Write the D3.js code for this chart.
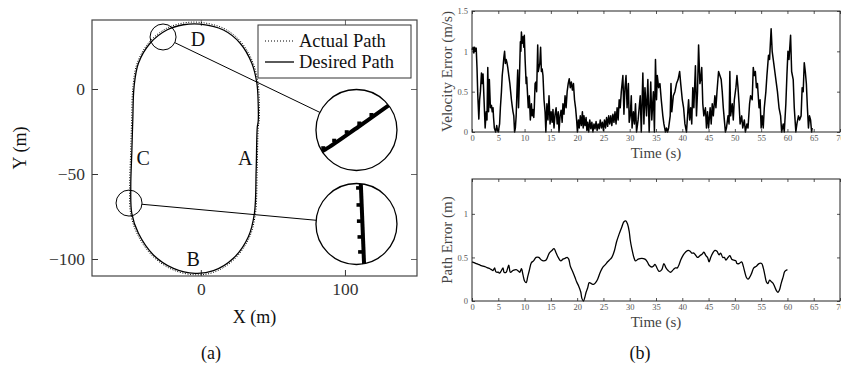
<!DOCTYPE html>
<html>
<head>
<meta charset="utf-8">
<script src="https://cdn.jsdelivr.net/npm/d3@7"></script>
<style>
  body { margin: 0; background: #fff; }
  svg { display: block; font-family: 'Liberation Serif', 'Times New Roman', serif; }
</style>
</head>
<body>
<div id="chart"></div>
<script>
// ---- data ----
// (a) track, desired path (m)
const desiredX = [-0.5, 15.7, 27.3, 35.4, 38.9, 39.8, 39.8, 39.2, 38.4, 37.2, 33, 22.6, 8.8, -4, -19, -32.9, -43.3, -47.9, -48.6, -47.9, -47.2, -46.3, -43.3, -35.2, -23.6, -12.1];
const desiredY = [38.2, 34.7, 26.9, 15.1, 3.4, -8.4, -19.2, -22.2, -47.6, -73.1, -86.9, -99.6, -106.9, -108.4, -105.5, -97.6, -84.9, -73.1, -57.5, -37.8, -18.2, 1.4, 15.1, 26.9, 34.7, 37.8];
// (a) track, actual path (m)
const actualX = [-0.5, 16.1, 28, 36.2, 39.7, 40.6, 40.5, 39.9, 39.1, 37.9, 33.6, 23, 9, -4, -19.3, -33.5, -44.1, -48.7, -49.4, -48.7, -48, -47.1, -44.1, -35.8, -24, -12.3];
const actualY = [39.2, 35.6, 27.6, 15.5, 3.5, -8.4, -19, -22.4, -47.6, -73.3, -87.5, -100.4, -107.8, -109.3, -106.4, -98.3, -85.3, -73.1, -57.5, -37.8, -18.2, 1.4, 15.4, 27.6, 35.6, 38.8];
const pointNames = ["A", "B", "C", "D"];
const pointX = [30.8, -5.3, -40, -1.9];
const pointY = [-40.6, -100, -40.6, 29.4];
const xTicksA = [0, 100];
const yTicksA = [0, -50, -100];

// (a) zoom insets: source spot and where the magnified view sits (m)
const zoomSrcX = [-26.2, -49.8];
const zoomSrcY = [30.6, -67.1];
const zoomDstX = [108, 108];
const zoomDstY = [-24.1, -79.4];
// magnified contents, in inset-local units (-1..1)
const zoomLineD = [[-1.05, 0.62], [-0.77, 0.48], [0.05, -0.08], [0.76, -0.58], [1.05, -0.78]];
const zoomMarksD = [[-0.82, 0.445], [-0.55, 0.26], [-0.24, 0.05], [0.07, -0.165], [0.37, -0.375]];
const zoomLineC = [[0.105, -1.05], [0.19, 1.05]];
const zoomMarksC = [[0.04, -0.89], [0.05, -0.47], [0.06, -0.07], [0.075, 0.32], [0.09, 0.69]];

// (b) velocity error
const velTime = [0, 0.2, 0.35, 0.5, 0.65, 0.8, 0.95, 1.1, 1.3, 1.45, 1.6, 1.8, 1.95, 2.1, 2.2, 2.35, 2.5, 2.7, 2.85, 3, 3.15, 3.3, 3.5, 3.7, 3.85, 4, 4.1, 4.25, 4.5, 4.7, 4.85, 5, 5.25, 5.4, 5.6, 5.75, 5.9, 6.05, 6.2, 6.35, 6.5, 6.65, 6.8, 7, 7.2, 7.35, 7.5, 7.65, 7.8, 7.95, 8.1, 8.25, 8.4, 8.55, 8.7, 8.85, 9, 9.2, 9.3, 9.4, 9.55, 9.7, 9.85, 9.95, 10.1, 10.3, 10.4, 10.5, 10.7, 10.9, 11.1, 11.3, 11.45, 11.6, 11.75, 11.85, 12, 12.15, 12.3, 12.5, 12.6, 12.75, 12.9, 13.05, 13.2, 13.35, 13.5, 13.7, 13.9, 14.05, 14.25, 14.45, 14.65, 14.85, 15.05, 15.25, 15.4, 15.6, 15.8, 16, 16.2, 16.4, 16.55, 16.75, 16.95, 17.15, 17.3, 17.5, 17.7, 17.9, 18.1, 18.3, 18.5, 18.7, 18.9, 19.1, 19.3, 19.5, 19.7, 19.9, 20.05, 20.25, 20.4, 20.6, 20.8, 21, 21.15, 21.3, 21.5, 21.7, 21.85, 22, 22.2, 22.4, 22.6, 22.8, 23, 23.2, 23.4, 23.6, 23.8, 24, 24.2, 24.4, 24.6, 24.8, 25, 25.2, 25.4, 25.6, 25.8, 26, 26.2, 26.4, 26.6, 26.8, 27, 27.2, 27.4, 27.6, 27.8, 28, 28.2, 28.4, 28.7, 28.9, 29.1, 29.3, 29.5, 29.75, 29.9, 30.1, 30.3, 30.45, 30.7, 30.9, 31.1, 31.3, 31.6, 31.8, 32, 32.2, 32.5, 32.7, 32.9, 33.2, 33.45, 33.7, 34, 34.2, 34.5, 34.7, 34.9, 35.1, 35.25, 35.5, 35.75, 36, 36.3, 36.5, 36.8, 37, 37.2, 37.4, 37.7, 37.85, 38, 38.3, 38.6, 38.9, 39.2, 39.5, 39.7, 40, 40.25, 40.5, 40.8, 41, 41.2, 41.4, 41.6, 41.8, 42, 42.2, 42.5, 42.7, 42.9, 43.1, 43.35, 43.5, 43.7, 43.9, 44.1, 44.4, 44.6, 44.8, 45, 45.3, 45.5, 45.7, 45.9, 46.2, 46.4, 46.6, 46.9, 47.15, 47.4, 47.6, 47.8, 48, 48.2, 48.4, 48.7, 48.9, 49.05, 49.2, 49.5, 49.7, 49.9, 50.2, 50.4, 50.6, 50.8, 51, 51.3, 51.5, 51.8, 52, 52.3, 52.5, 52.8, 53, 53.3, 53.5, 53.7, 53.9, 54.1, 54.3, 54.6, 54.8, 55, 55.2, 55.4, 55.6, 55.9, 56.1, 56.4, 56.6, 56.9, 57.1, 57.4, 57.6, 57.9, 58.1, 58.4, 58.7, 58.9, 59.2, 59.4, 59.7, 59.9, 60.1, 60.3, 60.6, 60.8, 61.1, 61.3, 61.6, 61.8, 62.1, 62.3, 62.6, 62.8, 63, 63.2, 63.4, 63.6, 63.8, 64, 64.2, 64.4, 64.6, 64.7];
const velError = [1.02, 1.05, 0.98, 1.05, 1, 1.04, 0.8, 0.46, 0.16, 0.4, 0.5, 0.73, 0.6, 0.72, 0.55, 0.3, 0.05, 0.25, 0.15, 0.8, 0.25, 0.65, 0.3, 0.33, 0.25, 0.3, 0.18, 0.05, 0, 0.08, 0.02, 0, 0.1, 0.3, 0.5, 0.7, 0.8, 0.92, 1, 0.85, 0.9, 0.86, 0.8, 0.7, 0.6, 0.5, 0.4, 0.32, 0.25, 0.2, 0, 0.05, 0.2, 0.5, 0.77, 0.3, 0.6, 1.12, 1, 1.24, 1.1, 1.18, 1.05, 1.2, 0.9, 0.6, 0.68, 0.55, 0.3, 0.45, 0.15, 0.35, 0.2, 0.28, 0.18, 0.3, 0.6, 0.62, 0.5, 1.08, 0.75, 0.8, 0.85, 1.05, 0.75, 0.78, 0.7, 0.4, 0.25, 0, 0.35, 0.15, 0.45, 0.1, 0.25, 0.12, 0.28, 0.05, 0.22, 0.3, 0.1, 0.25, 0, 0.2, 0.27, 0.12, 0.35, 0.22, 0.45, 0.3, 0.5, 0.6, 0.66, 0.55, 0.62, 0.52, 0.6, 0.4, 0.3, 0.15, 0, 0.15, 0.05, 0.2, 0.08, 0.25, 0.05, 0.2, 0.08, 0.18, 0.02, 0.12, 0, 0.15, 0.04, 0.12, 0, 0.1, 0.04, 0.13, 0.02, 0.1, 0.04, 0.15, 0.05, 0.12, 0.02, 0.15, 0.05, 0.18, 0.07, 0.2, 0.1, 0.2, 0.08, 0.22, 0.12, 0.25, 0.1, 0.3, 0.15, 0.4, 0.3, 0.5, 0.7, 0.22, 0.55, 0.7, 0.3, 0.6, 0.12, 0.2, 0.45, 0.05, 0.25, 0.1, 0.35, 0, 0.15, 0.3, 0.45, 0, 0.73, 0.1, 0.55, 0.2, 0.65, 0, 0.62, 0.15, 0.5, 0, 0.9, 0.4, 0.7, 0.55, 0.6, 0.4, 0.2, 0.1, 0, 0.05, 0, 0.05, 0.2, 0.6, 0.25, 0.45, 0.5, 0.6, 0.65, 0.75, 0.6, 0.4, 0.3, 0.1, 0, 0.2, 0.4, 0.15, 0.3, 0.1, 0.55, 0.3, 0.82, 0.2, 0.5, 1.08, 0.6, 0.65, 0.8, 0.35, 0.2, 0.3, 0.05, 0.25, 0.05, 0.3, 0.1, 0.35, 0.2, 0.45, 0.3, 0.5, 0.75, 0.7, 0.65, 0.5, 0.3, 0.15, 0, 0.05, 0.2, 0.1, 0.75, 0.2, 0.35, 0.15, 0.4, 0.55, 0.7, 0.55, 0.35, 0.1, 0.2, 0.05, 0.15, 0, 0.1, 0.05, 0.35, 0.45, 0.4, 0.8, 0.7, 0.75, 0.55, 0.6, 0.3, 0.4, 0.05, 0.2, 0.05, 0.3, 0.5, 0.7, 0.95, 0.9, 1.28, 1, 0.85, 0.75, 0.6, 0.5, 0.3, 0.2, 0, 0.1, 0, 0.35, 0.7, 1, 0.9, 1.2, 0.75, 0.65, 0.3, 0, 0.1, 0.2, 0.15, 0.2, 0.55, 0.5, 0.86, 0.75, 0.6, 0.3, 0.05, 0.2, 0.15, 0, 0.05];

// (b) path error
const pathTime = [0, 0.4, 0.8, 1.2, 1.6, 2.1, 2.6, 3, 3.4, 3.7, 4, 4.3, 4.5, 4.7, 5, 5.25, 5.6, 5.9, 6.1, 6.5, 6.8, 7, 7.3, 7.8, 8.4, 8.9, 9.1, 9.4, 9.7, 10, 10.3, 10.6, 10.9, 11.3, 11.7, 12.2, 12.7, 13.2, 13.6, 14.1, 14.7, 15.2, 15.6, 16, 16.4, 16.9, 17.3, 17.7, 18.1, 18.4, 18.7, 19.2, 19.6, 19.9, 20.3, 20.7, 20.9, 21.2, 21.5, 21.7, 22, 22.3, 22.7, 23.1, 23.5, 23.9, 24.4, 24.9, 25.4, 25.8, 26.3, 26.6, 27.1, 27.5, 28, 28.5, 28.9, 29.25, 29.6, 29.9, 30.1, 30.4, 30.8, 31.1, 31.6, 32.3, 32.9, 33.35, 33.7, 34.2, 34.5, 34.8, 35.25, 35.6, 36.1, 36.5, 36.9, 37.3, 37.8, 38.3, 38.7, 39.05, 39.4, 39.7, 40.2, 40.6, 41.1, 41.5, 41.8, 42.2, 42.6, 42.9, 43.35, 43.8, 44.1, 44.5, 44.8, 45.1, 45.4, 45.8, 46.2, 46.6, 47, 47.3, 47.7, 48, 48.3, 48.7, 49.05, 49.4, 49.8, 50.2, 50.4, 50.8, 51.3, 51.6, 51.9, 52.2, 52.5, 52.8, 53.2, 53.6, 54.1, 54.6, 55.1, 55.4, 55.7, 56, 56.3, 56.6, 56.96, 57.3, 57.6, 57.9, 58.2, 58.5, 58.8, 59.2, 59.5, 60];
const pathError = [0.45, 0.44, 0.43, 0.42, 0.41, 0.4, 0.39, 0.38, 0.37, 0.36, 0.35, 0.38, 0.34, 0.33, 0.33, 0.32, 0.35, 0.38, 0.33, 0.33, 0.38, 0.41, 0.33, 0.35, 0.36, 0.34, 0.33, 0.37, 0.3, 0.23, 0.21, 0.28, 0.35, 0.44, 0.46, 0.5, 0.5, 0.47, 0.46, 0.47, 0.55, 0.58, 0.6, 0.55, 0.5, 0.46, 0.48, 0.49, 0.5, 0.48, 0.4, 0.33, 0.27, 0.22, 0.17, 0.1, 0.03, 0, 0.05, 0.1, 0.15, 0.21, 0.2, 0.19, 0.21, 0.25, 0.33, 0.39, 0.42, 0.45, 0.48, 0.5, 0.58, 0.68, 0.77, 0.85, 0.91, 0.92, 0.88, 0.8, 0.7, 0.6, 0.5, 0.46, 0.48, 0.49, 0.48, 0.45, 0.41, 0.39, 0.4, 0.42, 0.37, 0.34, 0.36, 0.43, 0.38, 0.35, 0.33, 0.36, 0.38, 0.38, 0.42, 0.47, 0.53, 0.56, 0.58, 0.57, 0.55, 0.55, 0.52, 0.5, 0.52, 0.54, 0.56, 0.52, 0.5, 0.45, 0.5, 0.55, 0.58, 0.57, 0.53, 0.55, 0.5, 0.5, 0.47, 0.5, 0.52, 0.48, 0.47, 0.46, 0.43, 0.43, 0.45, 0.4, 0.33, 0.27, 0.25, 0.27, 0.32, 0.38, 0.4, 0.43, 0.43, 0.38, 0.3, 0.22, 0.2, 0.24, 0.22, 0.2, 0.16, 0.12, 0.1, 0.13, 0.2, 0.28, 0.34, 0.36];

const timeTicks = [0, 5, 10, 15, 20, 25, 30, 35, 40, 45, 50, 55, 60, 65, 70];
const velTicks = [0, 0.5, 1, 1.5];
const pathTicks = [0, 0.5, 1];

// ---- drawing ----
const W = 841, H = 372;
const svg = d3.select("#chart").append("svg")
  .attr("width", W)
  .attr("height", H);

// ===== panel (a) =====
const boxA = { left: 92, right: 417, top: 20, bottom: 276 };
const xA = d3.scaleLinear().domain([-75.5, 150]).range([boxA.left, boxA.right]);
const yA = d3.scaleLinear().domain([-110, 40.6]).range([boxA.bottom, boxA.top]);
const fmtA = d3.format("d");

const gA = svg.append("g").attr("class", "panel-a");

// axes with inward ticks
function styleAxis(g, color, fontSize) {
  g.select(".domain").remove();
  g.selectAll(".tick line").attr("stroke", color);
  g.selectAll(".tick text")
    .attr("fill", color)
    .style("font-size", fontSize + "px")
    .style("font-family", "'Liberation Serif', serif");
}

gA.append("g")
  .attr("transform", `translate(0,${boxA.bottom})`)
  .call(d3.axisBottom(xA).tickValues(xTicksA).tickFormat(fmtA).tickSizeInner(-6).tickSizeOuter(0).tickPadding(7))
  .call(g => styleAxis(g, "#333", 17.5));
gA.append("g")
  .attr("transform", `translate(0,${boxA.top})`)
  .call(d3.axisTop(xA).tickValues(xTicksA).tickFormat("").tickSizeInner(-6).tickSizeOuter(0))
  .call(g => styleAxis(g, "#666", 17.5));
gA.append("g")
  .attr("transform", `translate(${boxA.left},0)`)
  .call(d3.axisLeft(yA).tickValues(yTicksA).tickFormat(fmtA).tickSizeInner(-6).tickSizeOuter(0).tickPadding(7))
  .call(g => styleAxis(g, "#333", 17.5));
gA.append("g")
  .attr("transform", `translate(${boxA.right},0)`)
  .call(d3.axisRight(yA).tickValues(yTicksA).tickFormat("").tickSizeInner(-6).tickSizeOuter(0))
  .call(g => styleAxis(g, "#666", 17.5));

// track lines
const lineA = d3.line().x(d => xA(d[0])).y(d => yA(d[1])).curve(d3.curveCatmullRomClosed.alpha(0.5));
const desired = desiredX.map((x, i) => [x, desiredY[i]]);
const actual = actualX.map((x, i) => [x, actualY[i]]);

gA.append("path")
  .attr("d", lineA(actual))
  .attr("fill", "none")
  .attr("stroke", "#000")
  .attr("stroke-width", 1)
  .attr("stroke-dasharray", "1,1.6");
gA.append("path")
  .attr("d", lineA(desired))
  .attr("fill", "none")
  .attr("stroke", "#000")
  .attr("stroke-width", 1.3);

// point labels
gA.selectAll(".pt-label")
  .data(pointNames)
  .enter().append("text")
  .attr("class", "pt-label")
  .attr("x", (d, i) => xA(pointX[i]))
  .attr("y", (d, i) => yA(pointY[i]))
  .attr("dy", "0.35em")
  .attr("text-anchor", "middle")
  .style("font-size", "20px")
  .attr("fill", "#111")
  .text(d => d);

// zoom insets
const smallR = 13, bigR = 40.5;
const defs = svg.append("defs");
zoomSrcX.forEach((sx, i) => {
  const cx0 = xA(sx), cy0 = yA(zoomSrcY[i]);
  const cx1 = xA(zoomDstX[i]), cy1 = yA(zoomDstY[i]);
  const ang = Math.atan2(cy1 - cy0, cx1 - cx0);

  // connector between the two circles
  gA.append("line")
    .attr("x1", cx0 + smallR * Math.cos(ang))
    .attr("y1", cy0 + smallR * Math.sin(ang))
    .attr("x2", cx1 - bigR * Math.cos(ang))
    .attr("y2", cy1 - bigR * Math.sin(ang))
    .attr("stroke", "#000")
    .attr("stroke-width", 1);

  gA.append("circle")
    .attr("cx", cx0).attr("cy", cy0).attr("r", smallR)
    .attr("fill", "none").attr("stroke", "#000").attr("stroke-width", 1);

  defs.append("clipPath").attr("id", "zclip" + i)
    .append("circle").attr("cx", cx1).attr("cy", cy1).attr("r", bigR);

  gA.append("circle")
    .attr("cx", cx1).attr("cy", cy1).attr("r", bigR)
    .attr("fill", "#fff");

  const u = d3.scaleLinear().domain([-1, 1]).range([cx1 - bigR, cx1 + bigR]);
  const v = d3.scaleLinear().domain([-1, 1]).range([cy1 - bigR, cy1 + bigR]);
  const lineData = i === 0 ? zoomLineD : zoomLineC;
  const markData = i === 0 ? zoomMarksD : zoomMarksC;
  const inner = gA.append("g").attr("clip-path", `url(#zclip${i})`);

  inner.selectAll(".zmark")
    .data(markData)
    .enter().append("rect")
    .attr("class", "zmark")
    .attr("x", d => u(d[0]) - 2)
    .attr("y", d => v(d[1]) - 1.8)
    .attr("width", 4)
    .attr("height", 3.6)
    .attr("fill", "#000");

  inner.append("path")
    .attr("d", d3.line().x(d => u(d[0])).y(d => v(d[1])).curve(d3.curveCatmullRom)(lineData))
    .attr("fill", "none")
    .attr("stroke", "#000")
    .attr("stroke-width", 4);

  gA.append("circle")
    .attr("cx", cx1).attr("cy", cy1).attr("r", bigR)
    .attr("fill", "none").attr("stroke", "#000").attr("stroke-width", 1.3);
});

// frame
gA.append("rect")
  .attr("x", boxA.left).attr("y", boxA.top)
  .attr("width", boxA.right - boxA.left).attr("height", boxA.bottom - boxA.top)
  .attr("fill", "none").attr("stroke", "#444").attr("stroke-width", 1.2);

// legend
const legend = gA.append("g").attr("class", "legend");
legend.append("rect")
  .attr("x", 258).attr("y", 25).attr("width", 153).attr("height", 53)
  .attr("fill", "#fff").attr("stroke", "#333").attr("stroke-width", 1);
const legendItems = [
  { name: "Actual Path", dash: "1,2" },
  { name: "Desired Path", dash: null }
];
legendItems.forEach((it, i) => {
  const ly = 41 + i * 21;
  legend.append("line")
    .attr("x1", 265).attr("x2", 294).attr("y1", ly).attr("y2", ly)
    .attr("stroke", "#000").attr("stroke-width", it.dash ? 1 : 1.3)
    .attr("stroke-dasharray", it.dash);
  legend.append("text")
    .attr("x", 299).attr("y", ly).attr("dy", "0.35em")
    .style("font-size", "18.5px").attr("fill", "#111")
    .text(it.name);
});

// axis labels
gA.append("text")
  .attr("x", (boxA.left + boxA.right) / 2).attr("y", 323)
  .attr("text-anchor", "middle").style("font-size", "18px").attr("fill", "#111")
  .text("X (m)");
gA.append("text")
  .attr("transform", `translate(26,${(boxA.top + boxA.bottom) / 2}) rotate(-90)`)
  .attr("text-anchor", "middle").style("font-size", "18px").attr("fill", "#111")
  .text("Y (m)");
gA.append("text")
  .attr("x", 211).attr("y", 359)
  .attr("text-anchor", "middle").style("font-size", "18px").attr("fill", "#111")
  .text("(a)");

// ===== panel (b) =====
const xB = d3.scaleLinear().domain([0, 70]).range([472, 840]);
const panelsB = [
  { top: 11, bottom: 132, max: 1.5, ticks: velTicks, t: velTime, v: velError, label: "Velocity Error (m/s)", width: 1.5, curve: d3.curveLinear },
  { top: 179, bottom: 301, max: 1.4, ticks: pathTicks, t: pathTime, v: pathError, label: "Path Error (m)", width: 1.3, curve: d3.curveCatmullRom }
];
const fmtB = d3.format("");

panelsB.forEach(p => {
  const g = svg.append("g");
  const y = d3.scaleLinear().domain([0, p.max]).range([p.bottom, p.top]);

  g.append("g")
    .attr("transform", `translate(0,${p.bottom})`)
    .call(d3.axisBottom(xB).tickValues(timeTicks).tickFormat(fmtB).tickSizeInner(-3).tickSizeOuter(0).tickPadding(3))
    .call(s => styleAxis(s, "#555", 8.5));
  g.append("g")
    .attr("transform", `translate(0,${p.top})`)
    .call(d3.axisTop(xB).tickValues(timeTicks).tickFormat("").tickSizeInner(-3).tickSizeOuter(0))
    .call(s => styleAxis(s, "#555", 8.5));
  g.append("g")
    .attr("transform", `translate(472,0)`)
    .call(d3.axisLeft(y).tickValues(p.ticks).tickFormat(fmtB).tickSizeInner(-3).tickSizeOuter(0).tickPadding(4))
    .call(s => styleAxis(s, "#555", 8.5));
  g.append("g")
    .attr("transform", `translate(840,0)`)
    .call(d3.axisRight(y).tickValues(p.ticks).tickFormat("").tickSizeInner(-3).tickSizeOuter(0))
    .call(s => styleAxis(s, "#555", 8.5));

  g.append("path")
    .attr("d", d3.line().x((d, i) => xB(p.t[i])).y(d => y(d)).curve(p.curve)(p.v))
    .attr("fill", "none")
    .attr("stroke", "#000")
    .attr("stroke-width", p.width)
    .attr("stroke-linejoin", "round");

  g.append("rect")
    .attr("x", 472).attr("y", p.top)
    .attr("width", 368).attr("height", p.bottom - p.top)
    .attr("fill", "none").attr("stroke", "#222").attr("stroke-width", 1);

  g.append("text")
    .attr("x", 656).attr("y", p.bottom + 26)
    .attr("text-anchor", "middle").style("font-size", "15px").attr("fill", "#444")
    .text("Time (s)");
  g.append("text")
    .attr("transform", `translate(452,${(p.top + p.bottom) / 2}) rotate(-90)`)
    .attr("text-anchor", "middle").style("font-size", "15px").attr("fill", "#444")
    .text(p.label);
});

svg.append("text")
  .attr("x", 640).attr("y", 359)
  .attr("text-anchor", "middle").style("font-size", "18px").attr("fill", "#111")
  .text("(b)");
</script>
</body>
</html>
